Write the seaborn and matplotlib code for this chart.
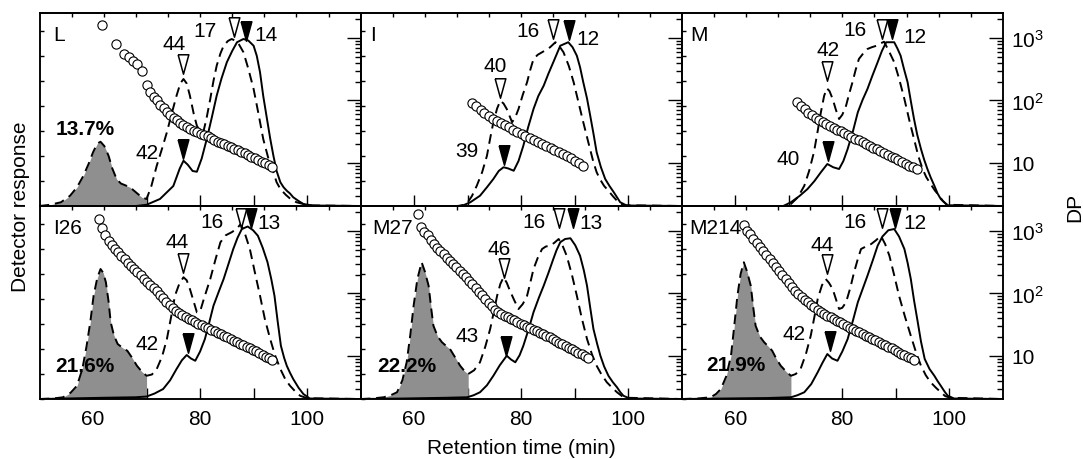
"""Size-exclusion profiles (detector response) with DP calibration, six samples."""

import matplotlib

matplotlib.use("Agg")  # headless
import matplotlib.pyplot as plt
import matplotlib.ticker as mticker
import pandas as pd
import seaborn as sns

# ---- data ---------------------------------------------------------------
# (retention time in min, detector response in arbitrary units)
L_solid = [(50, 0), (68, 0), (70, 0.05), (72.5, 0.28), (75, 0.8), (76.2, 1.5), (76.9, 1.81),
           (77.7, 1.65), (78.6, 1.4), (79.4, 1.37), (80.3, 1.9), (81.25, 2.68), (82.2, 3.55),
           (83.1, 4.41), (84.0, 5.1), (85.0, 5.75), (86.0, 6.2), (86.9, 6.55), (88.1, 6.68),
           (89.0, 6.62), (90.0, 6.41), (90.6, 6.0), (91.2, 5.35), (91.8, 4.4), (92.5, 3.48),
           (93.1, 2.7), (93.7, 2.01), (94.3, 1.4), (95.0, 0.95), (95.6, 0.75), (96.2, 0.61),
           (96.8, 0.5), (97.4, 0.35), (98.4, 0.2), (99.3, 0.08), (101, 0.02), (110, 0)]
L_dashed = [(50, 0), (52, 0.05), (54, 0.15), (55.7, 0.41), (57, 0.75), (58.2, 1.21), (59.2, 1.7),
            (60, 2.15), (60.8, 2.5), (61.4, 2.57), (62.1, 2.4), (62.9, 2.01), (63.6, 1.5),
            (64.4, 1.08), (65.2, 0.9), (66.0, 0.83), (66.9, 0.75), (68.0, 0.55), (69.1, 0.35),
            (70.0, 0.28), (70.9, 0.8), (71.9, 1.61), (72.9, 2.3), (73.8, 2.95), (74.7, 3.7),
            (75.6, 4.41), (76.3, 4.9), (76.9, 5.08), (77.5, 4.9), (78.1, 4.41), (78.8, 3.7),
            (79.4, 3.21), (80.0, 2.98), (80.6, 2.95), (81.2, 3.5), (81.9, 4.28), (82.5, 5.0),
            (83.1, 5.61), (83.8, 6.1), (84.4, 6.41), (85.2, 6.6), (85.9, 6.68), (86.5, 6.62),
            (87.3, 6.45), (88.1, 6.15), (89.0, 5.5), (90.0, 4.68), (90.9, 3.7), (91.8, 2.68),
            (92.7, 1.95), (93.7, 1.35), (94.3, 0.95), (95.0, 0.68), (96.0, 0.45), (96.9, 0.28),
            (98.0, 0.15), (99.3, 0.08), (101, 0.02), (110, 0)]

I_solid = [(50, 0), (68, 0), (69.2, 0.03), (70.5, 0.15), (72.3, 0.41), (73.6, 0.75), (74.8, 1.08),
           (75.8, 1.4), (76.7, 1.55), (77.6, 1.5), (78.6, 1.41), (79.5, 1.8), (80.4, 2.41),
           (81.3, 3.15), (82.3, 3.88), (83.2, 4.4), (84.2, 4.81), (85.1, 5.3), (86.0, 5.75),
           (87.3, 6.41), (88.8, 6.55), (89.6, 6.35), (90.4, 6.01), (91.0, 5.55), (91.6, 4.95),
           (92.3, 4.3), (92.9, 3.61), (93.5, 2.9), (94.1, 2.15), (94.9, 1.55), (95.7, 1.08),
           (96.5, 0.8), (97.3, 0.55), (97.9, 0.35), (98.5, 0.15), (99.7, 0.02), (110, 0)]
I_dashed = [(50, 0), (68.5, 0), (69.8, 0.08), (70.8, 0.4), (71.7, 0.81), (72.7, 1.35), (73.6, 2.01),
            (74.2, 2.7), (74.8, 3.35), (75.5, 3.9), (76.1, 4.21), (76.7, 4.1), (77.3, 3.88),
            (78.3, 3.35), (78.9, 3.55), (79.5, 3.88), (80.3, 4.45), (81.1, 4.95), (81.7, 5.45),
            (82.3, 5.88), (83.1, 6.05), (83.9, 6.15), (84.7, 6.25), (85.4, 6.35), (86.4, 6.55),
            (87.1, 6.4), (87.9, 6.15), (88.9, 5.6), (89.8, 4.95), (90.7, 4.15), (91.6, 3.35),
            (92.6, 2.5), (93.5, 1.75), (94.1, 1.35), (94.7, 1.08), (95.5, 0.8), (96.3, 0.61),
            (97.1, 0.4), (97.9, 0.21), (99.1, 0.03), (110, 0)]

M_solid = [(50, 0), (69, 0), (70.4, 0.15), (72.0, 0.4), (73.5, 0.68), (74.8, 1.0), (76.0, 1.35),
           (77.2, 1.68), (78.3, 1.55), (79.4, 1.48), (80.2, 1.8), (81.0, 2.28), (82.0, 3.0),
           (82.9, 3.75), (83.8, 4.25), (84.7, 4.68), (85.6, 5.2), (86.6, 5.75), (87.4, 6.2),
           (88.2, 6.55), (89.7, 6.55), (90.3, 6.3), (90.9, 6.01), (91.5, 5.5), (92.2, 4.95),
           (92.8, 4.2), (93.4, 3.48), (94.0, 2.85), (94.7, 2.28), (95.3, 1.85), (95.9, 1.48),
           (96.5, 1.15), (97.2, 0.81), (97.8, 0.5), (98.4, 0.28), (99.6, 0.03), (110, 0)]
M_dashed = [(50, 0), (69, 0), (70.4, 0.08), (71.7, 0.35), (72.9, 0.81), (73.8, 1.4), (74.7, 2.15),
            (75.4, 3.0), (76.0, 3.75), (76.6, 4.4), (77.1, 4.71), (77.6, 4.6), (78.2, 4.28),
            (78.8, 3.85), (79.4, 3.48), (80.0, 3.65), (80.7, 4.01), (81.3, 4.5), (81.9, 4.95),
            (82.5, 5.45), (83.1, 5.88), (83.9, 6.1), (84.7, 6.28), (85.5, 6.35), (86.4, 6.41),
            (87.1, 6.5), (87.8, 6.57), (88.7, 6.2), (89.7, 5.75), (90.6, 5.1), (91.6, 4.28),
            (92.5, 3.45), (93.4, 2.68), (94.2, 2.0), (95.0, 1.48), (95.7, 1.15), (96.5, 0.88),
            (97.3, 0.62), (98.1, 0.41), (98.8, 0.2), (99.6, 0.05), (110, 0)]

I26_solid = [(50, 0), (55, 0.02), (62, 0.05), (68, 0.07), (70.0, 0.1), (71.5, 0.22), (73.1, 0.4),
             (74.4, 0.75), (75.6, 1.2), (76.6, 1.55), (77.5, 1.76), (78.3, 1.62), (79.1, 1.53),
             (80.0, 1.9), (80.9, 2.4), (81.7, 3.05), (82.5, 3.73), (83.5, 4.3), (84.4, 4.8),
             (85.3, 5.4), (86.2, 6.0), (87.0, 6.45), (87.8, 6.8), (88.9, 6.9), (89.9, 6.75),
             (90.8, 6.53), (91.7, 6.05), (92.6, 5.47), (93.3, 4.8), (93.9, 4.13), (94.5, 3.1),
             (95.1, 2.13), (95.7, 1.65), (96.2, 1.33), (96.8, 1.05), (97.4, 0.8), (98.4, 0.45),
             (99.3, 0.2), (100.5, 0.02), (110, 0)]
I26_dashed = [(50, 0), (52.5, 0.02), (54.4, 0.07), (55.8, 0.25), (57.0, 0.53), (58.0, 1.2),
              (58.8, 2.13), (59.5, 3.1), (60.1, 4.13), (60.8, 4.85), (61.4, 5.2), (61.9, 5.05),
              (62.4, 4.67), (62.9, 3.9), (63.3, 3.07), (63.9, 2.55), (64.6, 2.2), (65.5, 2.05),
              (66.4, 1.93), (67.3, 1.65), (68.2, 1.33), (69.1, 1.1), (70.0, 0.93), (71.0, 0.98),
              (71.9, 1.2), (72.9, 1.7), (73.8, 2.4), (74.6, 3.3), (75.3, 4.13), (76.1, 4.6),
              (76.9, 4.87), (77.5, 4.75), (78.1, 4.4), (78.8, 3.9), (79.4, 3.47), (80.0, 3.5),
              (80.7, 4.0), (81.3, 4.4), (81.9, 4.8), (82.9, 5.6), (83.8, 6.27), (84.8, 6.55),
              (85.9, 6.67), (86.8, 6.8), (87.6, 7.0), (88.4, 6.6), (89.3, 6.0), (90.2, 5.1),
              (91.2, 4.13), (92.1, 3.2), (93.1, 2.4), (94.0, 1.75), (95.0, 1.2), (95.9, 0.8),
              (96.8, 0.53), (97.8, 0.3), (98.7, 0.13), (100, 0.03), (110, 0)]

M27_solid = [(50, 0), (58, 0.02), (66, 0.05), (69.9, 0.07), (71.1, 0.15), (72.3, 0.27), (73.6, 0.55),
             (74.8, 0.93), (76.0, 1.35), (77.3, 1.73), (78.1, 1.58), (78.9, 1.47), (79.7, 1.75),
             (80.4, 2.13), (81.4, 2.8), (82.3, 3.47), (83.3, 4.05), (84.2, 4.53), (85.1, 5.05),
             (86.0, 5.6), (86.6, 5.95), (87.3, 6.27), (88.2, 6.4), (89.2, 6.43), (90.1, 6.15),
             (91.0, 5.73), (91.7, 5.15), (92.3, 4.53), (92.9, 3.65), (93.5, 2.8), (94.2, 2.2),
             (94.8, 1.73), (95.5, 1.3), (96.3, 0.93), (97.1, 0.68), (97.9, 0.47), (98.5, 0.28),
             (99.1, 0.13), (100.3, 0.02), (110, 0)]
M27_dashed = [(50, 0), (52, 0.02), (54.3, 0.07), (55.6, 0.15), (56.8, 0.27), (57.8, 0.75),
              (58.6, 1.47), (59.3, 2.6), (59.9, 3.73), (60.6, 4.8), (61.4, 5.47), (62.0, 5.1),
              (62.7, 4.53), (63.2, 3.6), (63.6, 2.93), (64.4, 2.5), (65.2, 2.27), (66.0, 2.12),
              (66.7, 2.0), (67.7, 1.65), (68.6, 1.33), (69.4, 1.12), (70.1, 1.0), (71.2, 1.15),
              (72.3, 1.47), (73.3, 2.1), (74.2, 2.8), (74.9, 3.5), (75.5, 4.13), (76.1, 4.6),
              (76.7, 4.87), (77.3, 4.65), (77.9, 4.33), (78.7, 3.95), (79.5, 3.6), (80.3, 3.8),
              (81.1, 4.13), (81.7, 4.65), (82.3, 5.2), (83.1, 5.65), (83.9, 6.0), (84.6, 6.1),
              (85.4, 6.13), (86.2, 6.25), (87.0, 6.4), (87.7, 6.15), (88.5, 5.73), (89.5, 4.95),
              (90.4, 4.13), (91.3, 3.25), (92.3, 2.4), (93.2, 1.8), (94.1, 1.33), (95.0, 0.98),
              (96.0, 0.67), (97.0, 0.45), (97.9, 0.27), (98.8, 0.12), (99.7, 0.05), (110, 0)]

M214_solid = [(50, 0), (58, 0.02), (66, 0.04), (70.4, 0.07), (71.6, 0.15), (72.9, 0.27), (74.2, 0.6),
              (75.4, 1.07), (76.3, 1.45), (77.2, 1.8), (78.1, 1.62), (79.1, 1.53), (80.0, 1.9),
              (81.0, 2.4), (82.0, 3.15), (82.9, 3.87), (83.8, 4.4), (84.7, 4.93), (85.7, 5.55),
              (86.6, 6.13), (87.5, 6.5), (88.6, 6.75), (89.7, 6.8), (90.6, 6.5), (91.6, 6.0),
              (92.2, 5.45), (92.8, 4.8), (93.4, 3.95), (94.1, 3.07), (94.7, 2.3), (95.4, 1.6),
              (96.3, 1.2), (97.2, 0.93), (97.8, 0.72), (98.4, 0.53), (99.1, 0.3), (99.7, 0.13),
              (100.9, 0.02), (110, 0)]
M214_dashed = [(50, 0), (53, 0.02), (55.4, 0.07), (56.4, 0.2), (57.3, 0.4), (58.3, 0.9),
               (59.2, 1.73), (59.8, 2.9), (60.4, 4.13), (61.0, 5.0), (61.6, 5.47), (62.2, 5.1),
               (62.9, 4.53), (63.4, 3.6), (63.8, 2.93), (64.6, 2.5), (65.4, 2.27), (66.2, 2.1),
               (66.9, 1.93), (67.7, 1.6), (68.5, 1.33), (69.5, 1.1), (70.4, 0.93), (71.3, 1.0),
               (72.2, 1.2), (73.2, 1.8), (74.1, 2.53), (74.8, 3.3), (75.4, 4.0), (76.2, 4.55),
               (76.9, 4.8), (77.5, 4.65), (78.2, 4.4), (78.8, 4.0), (79.4, 3.6), (80.0, 3.65),
               (80.7, 3.87), (81.5, 4.45), (82.2, 5.07), (82.9, 5.6), (83.5, 6.0), (84.4, 6.1),
               (85.4, 6.2), (86.3, 6.35), (87.2, 6.53), (88.0, 6.2), (88.8, 5.73), (89.7, 4.95),
               (90.6, 4.13), (91.7, 3.3), (92.8, 2.53), (93.8, 1.85), (94.7, 1.33), (95.6, 0.95),
               (96.5, 0.67), (97.5, 0.45), (98.4, 0.27), (99.2, 0.12), (100.1, 0.05), (110, 0)]

# DP of collected fractions (retention time, DP)
L_dp = [(61.6, 1620), (64.2, 800), (65.8, 555), (66.7, 490), (67.5, 434), (68.3, 383), (69.2, 300),
        (70.0, 178), (70.6, 135), (71.3, 115), (71.9, 100), (72.5, 85), (73.2, 76), (73.8, 66),
        (74.4, 58), (75.1, 52), (75.7, 48), (76.3, 44), (76.9, 41), (77.6, 38), (78.2, 35.5),
        (78.8, 33), (79.5, 31), (80.1, 29.5), (80.7, 28), (81.4, 26.5), (82.0, 25), (82.6, 23.5),
        (83.3, 22), (83.9, 21), (84.5, 20), (85.2, 19), (85.8, 18), (86.4, 17), (87.1, 16),
        (87.7, 15), (88.3, 14.2), (89.0, 13.4), (89.6, 12.6), (90.2, 11.9), (90.9, 11.2),
        (91.5, 10.5), (92.1, 9.9), (92.8, 9.3), (93.4, 8.6)]
I_dp = [(70.8, 91), (71.6, 80), (72.4, 70), (73.1, 62), (73.9, 56), (74.7, 51), (75.4, 47), (76.2, 43),
        (77.0, 40), (77.8, 37), (78.5, 34), (79.3, 31.5), (80.1, 29), (80.8, 27), (81.6, 25),
        (82.4, 23.3), (83.2, 21.6), (83.9, 20), (84.7, 18.6), (85.5, 17.3), (86.2, 16), (87.0, 14.8),
        (87.8, 13.7), (88.5, 12.7), (89.3, 11.8), (90.1, 10.9), (90.8, 10.0), (91.6, 9.1)]
M_dp = [(71.6, 94), (72.3, 82), (73.0, 72), (73.6, 64), (74.3, 58), (75.0, 53), (75.7, 49), (76.3, 45),
        (77.0, 42), (77.7, 39), (78.4, 36), (79.0, 34), (79.7, 32), (80.4, 30), (81.1, 28), (81.7, 26),
        (82.4, 24.5), (83.1, 23), (83.8, 21.5), (84.4, 20), (85.1, 18.8), (85.8, 17.6), (86.5, 16.5),
        (87.1, 15.5), (87.8, 14.5), (88.5, 13.5), (89.2, 12.6), (89.8, 11.8), (90.5, 11.0),
        (91.2, 10.3), (91.9, 9.6), (92.5, 9.0), (93.2, 8.5), (93.9, 8.0)]
I26_dp = [(61.1, 1550), (61.7, 1100), (62.3, 850), (62.9, 700), (63.5, 600), (64.1, 520), (64.7, 460),
          (65.3, 400), (65.9, 350), (66.5, 310), (67.1, 275), (67.7, 245), (68.3, 220), (68.9, 195),
          (69.5, 172), (70.1, 155), (70.7, 138), (71.3, 122), (71.9, 108), (72.5, 95), (73.1, 84),
          (73.7, 74), (74.3, 65), (74.9, 58), (75.5, 52), (76.1, 48), (76.7, 45), (77.3, 42),
          (77.9, 39.5), (78.5, 37), (79.1, 35), (79.7, 33), (80.3, 31), (80.9, 29.5), (81.5, 28),
          (82.1, 26.5), (82.7, 25), (83.3, 23.6), (83.9, 22.3), (84.5, 21), (85.1, 19.8), (85.7, 18.7),
          (86.3, 17.6), (86.9, 16.6), (87.5, 15.7), (88.1, 14.8), (88.7, 14), (89.3, 13.2),
          (89.9, 12.5), (90.5, 11.8), (91.1, 11.1), (91.7, 10.4), (92.3, 9.8), (92.9, 9.2), (93.5, 8.6)]
M27_dp = [(60.8, 1870), (61.3, 1150), (61.9, 950), (62.5, 850), (63.1, 720), (63.7, 620), (64.3, 540),
          (64.9, 480), (65.5, 420), (66.1, 370), (66.7, 330), (67.3, 295), (67.9, 260), (68.5, 230),
          (69.1, 205), (69.7, 180), (70.3, 160), (70.9, 140), (71.5, 122), (72.1, 106), (72.7, 93),
          (73.3, 81), (73.9, 71), (74.5, 62), (75.1, 55), (75.7, 50), (76.3, 47), (76.9, 44),
          (77.5, 42), (78.1, 39.5), (78.7, 37), (79.3, 35), (79.9, 33), (80.5, 31), (81.1, 29.5),
          (81.7, 28), (82.3, 26.5), (82.9, 25), (83.5, 23.6), (84.1, 22.3), (84.7, 21), (85.3, 19.8),
          (85.9, 18.6), (86.5, 17.5), (87.1, 16.4), (87.7, 15.4), (88.3, 14.5), (88.9, 13.6),
          (89.5, 12.8), (90.1, 12), (90.7, 11.3), (91.3, 10.6), (91.9, 9.9), (92.5, 9.3)]
M214_dp = [(61.6, 1220), (62.2, 1000), (62.8, 880), (63.4, 730), (64.0, 630), (64.6, 550), (65.2, 470),
           (65.8, 410), (66.4, 360), (67.0, 310), (67.6, 265), (68.2, 225), (68.8, 195), (69.4, 170),
           (70.0, 145), (70.6, 126), (71.2, 110), (71.8, 98), (72.4, 88), (73.0, 79), (73.6, 72),
           (74.2, 65), (74.8, 60), (75.4, 55), (76.0, 51), (76.6, 47), (77.2, 44), (77.8, 41.5),
           (78.4, 39), (79.0, 36.5), (79.6, 34.5), (80.2, 32.5), (80.8, 30.5), (81.4, 28.5),
           (82.0, 27), (82.6, 25.5), (83.2, 24), (83.8, 22.5), (84.4, 21.2), (85.0, 20), (85.6, 18.9),
           (86.2, 17.8), (86.8, 16.8), (87.4, 15.8), (88.0, 14.9), (88.6, 14), (89.2, 13.2),
           (89.8, 12.4), (90.4, 11.6), (91.0, 10.9), (91.6, 10.3), (92.2, 9.7), (92.8, 9.2), (93.4, 8.7)]

# peak markers: (x, y, filled) and their DP labels (text, x, y)
L_marks = [(76.9, 5.68, False), (86.3, 7.16, False), (88.6, 7.0, True), (76.9, 2.28, True)]
L_labels = [("44", 75.1, 6.48), ("17", 80.9, 7.01), ("14", 92.3, 6.84), ("42", 70.0, 2.12)]
I_marks = [(76.1, 4.72, False), (86.0, 7.08, False), (89.0, 7.04, True), (76.8, 2.04, True)]
I_labels = [("40", 75.1, 5.6), ("16", 81.3, 7.0), ("12", 92.5, 6.7), ("39", 69.8, 2.2)]
M_marks = [(77.2, 5.4, False), (87.4, 7.08, False), (89.3, 7.08, True), (77.3, 2.2, True)]
M_labels = [("42", 77.4, 6.24), ("16", 82.4, 7.04), ("12", 93.5, 6.78), ("40", 69.8, 1.88)]
I26_marks = [(76.9, 5.46, False), (87.7, 7.24, False), (89.5, 7.24, True), (77.7, 2.24, True)]
I26_labels = [("44", 75.7, 6.3), ("16", 82.2, 7.12), ("13", 92.9, 7.06), ("42", 70.0, 2.22)]
M27_marks = [(76.8, 5.24, False), (87.1, 7.24, False), (89.6, 7.24, True), (77.2, 2.14, True)]
M27_labels = [("46", 75.9, 6.02), ("16", 82.3, 7.12), ("13", 93.1, 7.06), ("43", 69.9, 2.54)]
M214_marks = [(77.2, 5.4, False), (87.4, 7.24, False), (89.9, 7.24, True), (77.7, 2.34, True)]
M214_labels = [("44", 76.2, 6.2), ("16", 82.4, 7.12), ("12", 93.5, 7.06), ("42", 71.0, 2.62)]

# shaded early fraction: share of total and where it ends (min)
L_pct, L_pct_pos, L_cut = "13.7%", (58.5, 3.1), 70.0
I26_pct, I26_pct_pos, I26_cut = "21.6%", (58.5, 1.36), 70.0
M27_pct, M27_pct_pos, M27_cut = "22.2%", (58.6, 1.36), 70.1
M214_pct, M214_pct_pos, M214_cut = "21.9%", (60.1, 1.4), 70.4

PANELS = ["L", "I", "M", "I26", "M27", "M214"]
SOLID = dict(L=L_solid, I=I_solid, M=M_solid, I26=I26_solid, M27=M27_solid, M214=M214_solid)
DASHED = dict(L=L_dashed, I=I_dashed, M=M_dashed, I26=I26_dashed, M27=M27_dashed, M214=M214_dashed)
DP = dict(L=L_dp, I=I_dp, M=M_dp, I26=I26_dp, M27=M27_dp, M214=M214_dp)
MARKS = dict(L=L_marks, I=I_marks, M=M_marks, I26=I26_marks, M27=M27_marks, M214=M214_marks)
LABELS = dict(L=L_labels, I=I_labels, M=M_labels, I26=I26_labels, M27=M27_labels, M214=M214_labels)
SHADE = dict(L=(L_pct, L_pct_pos, L_cut), I26=(I26_pct, I26_pct_pos, I26_cut),
             M27=(M27_pct, M27_pct_pos, M27_cut), M214=(M214_pct, M214_pct_pos, M214_cut))
NAME_POS = dict(L=0.042, I=0.03, M=0.028, I26=0.042, M27=0.036, M214=0.022)

# ---- plotting -------------------------------------------------------------
sns.set_style("ticks", rc={"axes.edgecolor": "black", "text.color": "black",
                           "xtick.color": "black", "ytick.color": "black",
                           "axes.labelcolor": "black"})
plt.rcParams["font.family"] = ["Liberation Sans", "DejaVu Sans"]
plt.rcParams["mathtext.fontset"] = "custom"
plt.rcParams["mathtext.rm"] = "Liberation Sans"
plt.rcParams["font.size"] = 15
plt.rcParams["axes.linewidth"] = 1.1

TRI = [(-0.55, 1), (0.55, 1), (0, -1), (-0.55, 1)]
FS = 15

fig, axes = plt.subplots(2, 3, figsize=(10.83, 4.6), dpi=100, sharex=True, sharey=True)
fig.subplots_adjust(left=0.0365, right=0.926, top=0.9696, bottom=0.1304, wspace=0, hspace=0)

for i, (ax, name) in enumerate(zip(axes.flat, PANELS)):
    solid = pd.DataFrame(SOLID[name], columns=["t", "r"])
    dashed = pd.DataFrame(DASHED[name], columns=["t", "r"])
    dp = pd.DataFrame(DP[name], columns=["t", "dp"])

    if name in SHADE:
        pct, pos, cut = SHADE[name]
        early = dashed[dashed["t"] <= cut]
        ax.fill_between(early["t"], early["r"], color="#8f8f8f", lw=0, zorder=1)
        ax.text(pos[0], pos[1], pct, ha="center", va="center", fontsize=FS,
                fontweight="bold", zorder=5)

    sns.lineplot(data=solid, x="t", y="r", ax=ax, color="black", lw=1.4,
                 sort=False, estimator=None, zorder=3)
    sns.lineplot(data=dashed, x="t", y="r", ax=ax, color="black", lw=1.4,
                 linestyle=(0, (5, 3)), sort=False, estimator=None, zorder=3)

    for x, y, filled in MARKS[name]:
        ax.plot([x], [y], marker=TRI, ms=14, mec="black", mew=1.1,
                mfc="black" if filled else "white", ls="none", zorder=4)
    for text, x, y in LABELS[name]:
        ax.text(x, y, text, ha="center", va="center", fontsize=FS, zorder=5)
    ax.text(NAME_POS[name], 0.94, name, transform=ax.transAxes, ha="left", va="top",
            fontsize=FS)

    ax.set_xlim(50, 110)
    ax.set_ylim(0, 7.72)
    ax.set_xlabel("")
    ax.set_ylabel("")
    ax.set_xticks([60, 70, 80, 90, 100])
    ax.xaxis.set_major_formatter(
        mticker.FuncFormatter(lambda v, p: "" if v in (70, 90) else f"{v:g}"))
    ax.yaxis.set_major_locator(mticker.MultipleLocator(1))
    ax.tick_params(axis="x", direction="in", length=8, width=1, pad=7, labelsize=FS)
    ax.tick_params(axis="y", direction="in", length=3, width=1, labelleft=False)
    top = ax.secondary_xaxis("top")
    top.set_xticks(list(range(56, 110, 6)))
    top.tick_params(direction="in", length=3, width=1, labeltop=False)

    tw = ax.twinx()
    sns.scatterplot(data=dp, x="t", y="dp", ax=tw, marker="o", s=44, color="white",
                    edgecolor="black", linewidth=0.8, zorder=6)
    tw.set_yscale("log")
    tw.set_ylim(2.05, 2500)
    tw.set_ylabel("")
    tw.set_yticks([10, 100, 1000])
    tw.yaxis.set_minor_locator(mticker.LogLocator(base=10, subs=range(2, 10)))
    tw.yaxis.set_minor_formatter(mticker.NullFormatter())
    tw.tick_params(axis="y", which="major", direction="in", length=10, width=1, pad=6,
                   labelsize=FS)
    tw.tick_params(axis="y", which="minor", direction="in", length=4, width=1)
    if i % 3 == 2:
        tw.set_yticklabels(["10", r"$\mathregular{10^2}$", r"$\mathregular{10^3}$"])
    else:
        tw.tick_params(axis="y", labelright=False)

fig.text(0.0185, 0.55, "Detector response", rotation=90, ha="center", va="center", fontsize=FS)
fig.text(0.9926, 0.548, "DP", rotation=90, ha="center", va="center", fontsize=FS)
fig.text(0.481, 0.025, "Retention time (min)", ha="center", va="center", fontsize=FS)

fig.savefig("out.png", dpi=100)
plt.close(fig)
